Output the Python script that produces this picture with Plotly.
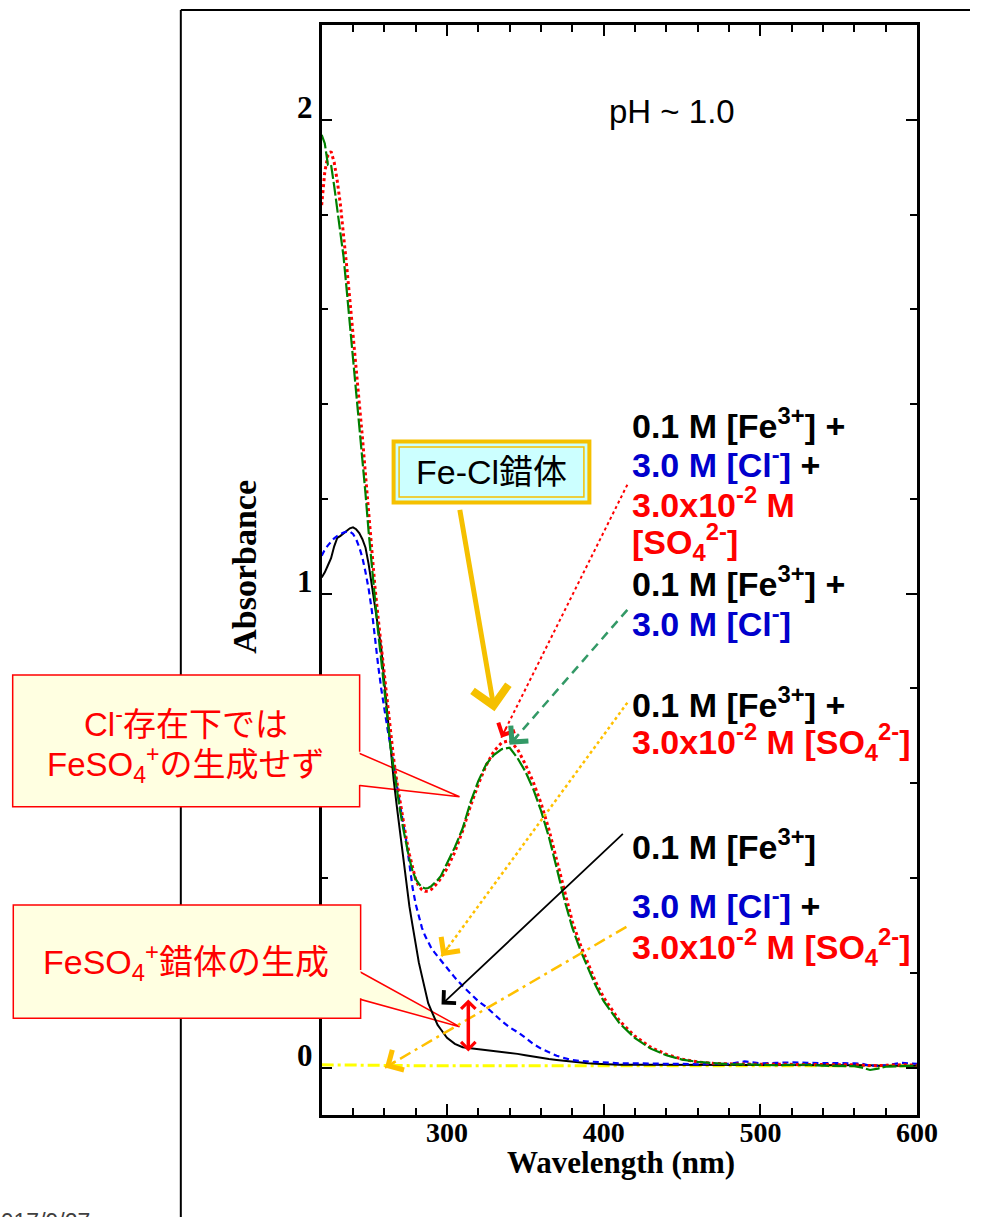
import math
import plotly.graph_objects as go

# ---------------- spectra (absorbance vs wavelength, nm) ----------------
wavelength = [
    220, 222, 224, 226, 228, 230, 232, 234, 236, 238, 240, 242, 244, 246, 248, 250,
    252, 254, 256, 258, 260, 262, 264, 266, 268, 270, 272, 274, 276, 278, 280, 282,
    284, 286, 288, 290, 292, 294, 296, 298, 300,
    305, 310, 315, 320, 325, 330, 335, 340, 345, 350, 355, 360, 365, 370, 375, 380,
    385, 390, 395, 400,
    410, 420, 430, 440, 450, 460, 470, 480, 490, 500, 510, 520, 530, 540, 550, 560,
    565, 570, 575, 580, 590, 600,
]

# 0.1 M [Fe3+]
abs_fe = [
    1.034, 1.045, 1.06, 1.075, 1.10, 1.118, 1.122, 1.128, 1.132, 1.138, 1.140, 1.136,
    1.128, 1.115, 1.097, 1.062, 1.018, 0.972, 0.93, 0.885, 0.814, 0.739, 0.671, 0.606,
    0.55, 0.495, 0.442, 0.391, 0.34, 0.30, 0.26, 0.222, 0.193, 0.164, 0.136, 0.12,
    0.105, 0.09, 0.081, 0.072, 0.063,
    0.05, 0.043, 0.041, 0.039, 0.037, 0.036, 0.034, 0.032, 0.029, 0.026, 0.023, 0.021,
    0.018, 0.016, 0.014, 0.012, 0.01, 0.009, 0.008, 0.007,
    0.006, 0.006, 0.006, 0.005, 0.006, 0.006, 0.006, 0.005, 0.006, 0.006, 0.005, 0.005,
    0.005, 0.005, 0.005, 0.005,
    0.005, 0.005, 0.004, 0.004, 0.004, 0.004,
]

# 0.1 M [Fe3+] + 3.0x10-2 M [SO4 2-]
abs_fe_so4 = [
    1.08, 1.093, 1.102, 1.11, 1.117, 1.122, 1.126, 1.129, 1.131, 1.131, 1.126, 1.115,
    1.098, 1.076, 1.045, 1.01, 0.965, 0.905, 0.85, 0.80, 0.755, 0.715, 0.678, 0.64,
    0.598, 0.555, 0.515, 0.478, 0.43, 0.38, 0.345, 0.318, 0.295, 0.278, 0.264, 0.252,
    0.243, 0.235, 0.226, 0.217, 0.209,
    0.19, 0.172, 0.155, 0.14, 0.128, 0.112, 0.098, 0.085, 0.075, 0.063, 0.05, 0.04,
    0.032, 0.025, 0.02, 0.016, 0.014, 0.013, 0.011, 0.01,
    0.009, 0.009, 0.008, 0.008, 0.008, 0.007, 0.008, 0.008, 0.013, 0.009, 0.01, 0.011,
    0.01, 0.01, 0.01, 0.009,
    0.008, 0.004, 0.004, 0.005, 0.01, 0.008,
]

# 0.1 M [Fe3+] + 3.0 M [Cl-]
abs_fe_cl = [
    1.968, 1.95, 1.905, 1.905, 1.86, 1.81, 1.765, 1.71, 1.64, 1.57, 1.50, 1.43,
    1.36, 1.29, 1.21, 1.13, 1.06, 0.98, 0.92, 0.86, 0.79, 0.735, 0.675, 0.628,
    0.585, 0.543, 0.505, 0.47, 0.44, 0.415, 0.398, 0.388, 0.381, 0.378, 0.379, 0.383,
    0.389, 0.396, 0.404, 0.418, 0.43,
    0.465, 0.505, 0.56, 0.605, 0.64, 0.66, 0.672, 0.675, 0.653, 0.625, 0.588, 0.542,
    0.487, 0.421, 0.353, 0.295, 0.249, 0.21, 0.172, 0.14,
    0.094, 0.062, 0.04, 0.026, 0.017, 0.012, 0.009, 0.007, 0.007, 0.006, 0.005, 0.006,
    0.006, 0.004, 0.003, 0.003,
    0.0, -0.005, -0.002, 0.002, 0.003, 0.004,
]

# 0.1 M [Fe3+] + 3.0 M [Cl-] + 3.0x10-2 M [SO4 2-]
abs_fe_cl_so4 = [
    1.82, 1.89, 1.925, 1.933, 1.91, 1.87, 1.82, 1.76, 1.69, 1.62, 1.55, 1.48,
    1.405, 1.33, 1.25, 1.17, 1.095, 1.015, 0.95, 0.89, 0.825, 0.765, 0.705, 0.65,
    0.603, 0.56, 0.52, 0.483, 0.45, 0.42, 0.397, 0.383, 0.375, 0.372, 0.372, 0.376,
    0.382, 0.39, 0.399, 0.41, 0.42,
    0.455, 0.50, 0.552, 0.598, 0.638, 0.668, 0.686, 0.69, 0.672, 0.64, 0.603, 0.558,
    0.503, 0.437, 0.368, 0.308, 0.26, 0.22, 0.18, 0.148,
    0.099, 0.066, 0.043, 0.028, 0.018, 0.012, 0.009, 0.008, 0.007, 0.007, 0.007, 0.007,
    0.007, 0.006, 0.006, 0.006,
    0.005, 0.004, 0.004, 0.005, 0.006, 0.005,
]

# 3.0 M [Cl-] + 3.0x10-2 M [SO4 2-] (no iron)
wavelength_blank = [220, 240, 260, 280, 300, 320, 340, 360, 380, 400,
                    420, 440, 460, 480, 500, 520, 540, 560, 580, 600]
abs_cl_so4 = [0.006, 0.005, 0.005, 0.004, 0.004, 0.004, 0.004, 0.004, 0.004, 0.004,
              0.003, 0.004, 0.003, 0.004, 0.003, 0.003, 0.004, 0.003, 0.004, 0.004]

x_ticks = [300, 400, 500, 600]
y_ticks = [0, 1, 2]

# ---------------- page geometry ----------------
W, H = 991, 1217
SPAN_X = 971          # horizontal pixels the page is laid out across
X_RANGE = [220, 600]
Y_RANGE = [-0.1, 2.2]
X_DOMAIN = [322 / SPAN_X, 918 / SPAN_X]
Y_DOMAIN = [1 - 1115 / H, 1 - 25 / H]
PLOT_W = 918 - 322
PLOT_H = 1115 - 25

SANS = "Liberation Sans, Arial, Noto Sans CJK JP"
SERIF = "Liberation Serif, Times New Roman, serif"
RED = "#FF0000"
BLUE = "#0000CC"
GOLD = "#F5C000"
AMBER = "#FFC000"
SEAGREEN = "#339966"
NOTE_FILL = "#FFFFE1"


def paper(px, py):
    return min(px / SPAN_X, 1.0), 1 - py / H


def pp(px, py):
    x, y = paper(px, py)
    return f"{x:.5f},{y:.5f}"


def to_px(x, y):
    """Data -> screen pixel offsets (y grows downward), used for arrow directions."""
    return ((x - X_RANGE[0]) / (X_RANGE[1] - X_RANGE[0]) * PLOT_W,
            -(y - Y_RANGE[0]) / (Y_RANGE[1] - Y_RANGE[0]) * PLOT_H)


fig = go.Figure()

fig.add_trace(go.Scatter(x=wavelength_blank, y=abs_cl_so4, mode="lines",
                         line=dict(color="#FFFF00", width=3, dash="12px,4px,3px,4px")))
fig.add_trace(go.Scatter(x=wavelength, y=abs_fe, mode="lines",
                         line=dict(color="black", width=2)))
fig.add_trace(go.Scatter(x=wavelength, y=abs_fe_so4, mode="lines",
                         line=dict(color="#0000FF", width=2.2, dash="6px,4px")))
fig.add_trace(go.Scatter(x=wavelength, y=abs_fe_cl_so4, mode="lines",
                         line=dict(color=RED, width=3, dash="3px,3px")))
fig.add_trace(go.Scatter(x=wavelength, y=abs_fe_cl, mode="lines",
                         line=dict(color="#008000", width=2.2, dash="14px,3px")))

shapes = []
annotations = []

# slide frame lines
shapes.append(dict(type="line", xref="paper", yref="paper", layer="below",
                   x0=paper(181, 10)[0], y0=paper(181, 10)[1],
                   x1=paper(181, 1217)[0], y1=paper(181, 1217)[1],
                   line=dict(color="black", width=2)))
shapes.append(dict(type="line", xref="paper", yref="paper", layer="below",
                   x0=paper(181, 10)[0], y0=paper(181, 10)[1],
                   x1=1.0, y1=paper(991, 10)[1],
                   line=dict(color="black", width=2)))


def callout(x0, y0, x1, y1, ya, yb, tip):
    """Rectangle with a wedge pointer leaving its right edge."""
    px0, py0 = paper(x0, y0)
    px1, py1 = paper(x1, y1)
    # wedge sits under the curves
    shapes.append(dict(type="path", xref="paper", yref="paper", layer="below",
                       path=f"M{pp(x1 - 4, ya)} L{pp(*tip)} L{pp(x1 - 4, yb)} Z",
                       fillcolor=NOTE_FILL, line=dict(color=RED, width=1.5)))
    shapes.append(dict(type="rect", xref="paper", yref="paper", layer="above",
                       x0=px0, y0=py0, x1=px1, y1=py1,
                       fillcolor=NOTE_FILL, line=dict(width=0)))
    shapes.append(dict(type="path", xref="paper", yref="paper", layer="above",
                       path=(f"M{pp(x1, ya)} L{pp(x1, y0)} L{pp(x0, y0)} "
                             f"L{pp(x0, y1)} L{pp(x1, y1)} L{pp(x1, yb)}"),
                       line=dict(color=RED, width=1.5)))


callout(12.7, 675, 360, 806.7, 751.7, 785, (460, 796.7))
callout(13.3, 905, 361, 1018.3, 970, 998.3, (460, 1026.7))

# "Fe-Cl錯体" double-framed box
bx0, by0 = paper(394, 441.5)
bx1, by1 = paper(590, 502.5)
shapes.append(dict(type="rect", xref="paper", yref="paper", layer="above",
                   x0=bx0, y0=by0, x1=bx1, y1=by1,
                   fillcolor="#CCFFFF", line=dict(color=GOLD, width=4)))
ix0, iy0 = paper(399.5, 447)
ix1, iy1 = paper(584.5, 497)
shapes.append(dict(type="rect", xref="paper", yref="paper", layer="above",
                   x0=ix0, y0=iy0, x1=ix1, y1=iy1,
                   line=dict(color=GOLD, width=1.5)))


def text_at(px, py, text, size, color="black", family=SANS, xanchor="center", **kw):
    x, y = paper(px, py)
    annotations.append(dict(x=x, y=y, xref="paper", yref="paper", text=text,
                            showarrow=False, xanchor=xanchor, yanchor="middle",
                            font=dict(size=size, color=color, family=family), **kw))


def dashed_arrow(tail, tip, color, dash, width, head_size=1.8, head_len=13):
    shapes.append(dict(type="line", xref="x", yref="y", layer="above",
                       x0=tail[0], y0=tail[1], x1=tip[0], y1=tip[1],
                       line=dict(color=color, width=width, dash=dash)))
    tx, ty = to_px(*tip)
    sx, sy = to_px(*tail)
    n = math.hypot(sx - tx, sy - ty)
    annotations.append(dict(x=tip[0], y=tip[1], xref="x", yref="y",
                            ax=(sx - tx) / n * head_len, ay=(sy - ty) / n * head_len,
                            text="", showarrow=True, arrowhead=4, arrowsize=head_size,
                            arrowwidth=width, arrowcolor=color, standoff=0))


def solid_arrow(tail, tip, color, width, head_size):
    annotations.append(dict(x=tip[0], y=tip[1], xref="x", yref="y",
                            ax=tail[0], ay=tail[1], axref="x", ayref="y",
                            text="", showarrow=True, arrowhead=4, arrowsize=head_size,
                            arrowwidth=width, arrowcolor=color, standoff=0))


# pointers from the sample labels to their spectra
dashed_arrow((415.1, 1.230), (334.6, 0.696), RED, "dot", 2)
dashed_arrow((415.1, 0.966), (339.9, 0.681), SEAGREEN, "9px,6px", 2.5)
dashed_arrow((415.1, 0.770), (296.5, 0.235), AMBER, "dot", 2.5)
solid_arrow((413.2, 0.496), (296.5, 0.133), "black", 1.8, 1.9)
dashed_arrow((414.5, 0.297), (260.4, 0.000), AMBER, "12px,5px,3px,5px", 2.5)

# Fe-Cl complex band
solid_arrow((308.0, 1.180), (330.3, 0.752), GOLD, 5, 1.4)

# FeSO4+ formation: gap between Fe and Fe+SO4 spectra
annotations.append(dict(x=313.6, y=0.034, xref="x", yref="y",
                        ax=313.6, ay=0.147, axref="x", ayref="y",
                        text="", showarrow=True, arrowside="end+start",
                        arrowhead=4, startarrowhead=4, arrowsize=0.8,
                        startarrowsize=0.8, arrowwidth=3.5, arrowcolor=RED,
                        standoff=0, startstandoff=0))

# y tick labels sit slightly above their ticks
for v in y_ticks:
    annotations.append(dict(x=paper(315, 0)[0], y=v, xref="paper", yref="y", yshift=12,
                            text=f"<b>{v}</b>", showarrow=False, xanchor="right",
                            yanchor="middle",
                            font=dict(size=31, color="black", family=SERIF)))

# axis titles
text_at(622, 1162, "<b>Wavelength (nm)</b>", 31, family=SERIF)
text_at(244, 567, "<b>Absorbance</b>", 34, family=SERIF, textangle=-90)

# condition note
text_at(673, 112, "pH ~ 1.0", 33)

# sample labels
LX = 631
FS = 34
BL = f"<span style='color:{BLUE}'>"
text_at(LX, 423, "<b>0.1 M [Fe<sup>3+</sup>] +</b>", FS, xanchor="left")
text_at(LX, 463, f"<b>{BL}3.0 M [Cl<sup>-</sup>]</span> +</b>", FS, xanchor="left")
text_at(LX, 502, "<b>3.0x10<sup>-2</sup> M</b>", FS, RED, xanchor="left")
text_at(LX, 542, "<b>[SO<sub>4</sub><sup>2-</sup>]</b>", FS, RED, xanchor="left")
text_at(LX, 582, "<b>0.1 M [Fe<sup>3+</sup>] +</b>", FS, xanchor="left")
text_at(LX, 621, "<b>3.0 M [Cl<sup>-</sup>]</b>", FS, BLUE, xanchor="left")
text_at(LX, 702, "<b>0.1 M [Fe<sup>3+</sup>] +</b>", FS, xanchor="left")
text_at(LX, 742, "<b>3.0x10<sup>-2</sup> M [SO<sub>4</sub><sup>2-</sup>]</b>", FS, RED,
        xanchor="left")
text_at(LX, 844, "<b>0.1 M [Fe<sup>3+</sup>]</b>", FS, xanchor="left")
text_at(LX, 903, f"<b>{BL}3.0 M [Cl<sup>-</sup>]</span> +</b>", FS, xanchor="left")
text_at(LX, 947, "<b>3.0x10<sup>-2</sup> M [SO<sub>4</sub><sup>2-</sup>]</b>", FS, RED,
        xanchor="left")

# box and callout texts
text_at(492, 472, "Fe-Cl錯体", 34)
text_at(186, 722, "Cl<sup>-</sup>存在下では", 33, RED)
text_at(186, 764, "FeSO<sub>4</sub><sup>+</sup>の生成せず", 33, RED)
text_at(186, 962, "FeSO<sub>4</sub><sup>+</sup>錯体の生成", 34, RED)

# slide date, partly off the page
dx, dy = paper(92, 1207)
annotations.append(dict(x=dx, y=dy, xref="paper", yref="paper", text="2017/9/27",
                        showarrow=False, xanchor="right", yanchor="top",
                        font=dict(size=23, color="#404040", family=SANS)))

axis_common = dict(showgrid=False, zeroline=False, showline=True, linecolor="black",
                   linewidth=2.5, mirror="ticks", ticks="inside", ticklen=11,
                   tickwidth=2, tickcolor="black")

fig.update_layout(
    width=W, height=H,
    autosize=False,
    margin=dict(l=0, r=0, t=0, b=0),
    paper_bgcolor="white",
    plot_bgcolor="rgba(0,0,0,0)",
    showlegend=False,
    xaxis=dict(range=X_RANGE, domain=X_DOMAIN, tickvals=x_ticks,
               ticktext=[f"<b>{t}</b>" for t in x_ticks],
               tickfont=dict(family=SERIF, size=28, color="black"),
               ticklabelstandoff=-9,
               minor=dict(dtick=20, tick0=0, ticks="inside", ticklen=7,
                          tickwidth=2, tickcolor="black", showgrid=False),
               **axis_common),
    yaxis=dict(range=Y_RANGE, domain=Y_DOMAIN, tickvals=y_ticks, showticklabels=False,
               minor=dict(dtick=0.2, tick0=0, ticks="inside", ticklen=7,
                          tickwidth=2, tickcolor="black", showgrid=False),
               **axis_common),
    shapes=shapes,
    annotations=annotations,
)

fig.write_html("out.html", config={"responsive": False})
